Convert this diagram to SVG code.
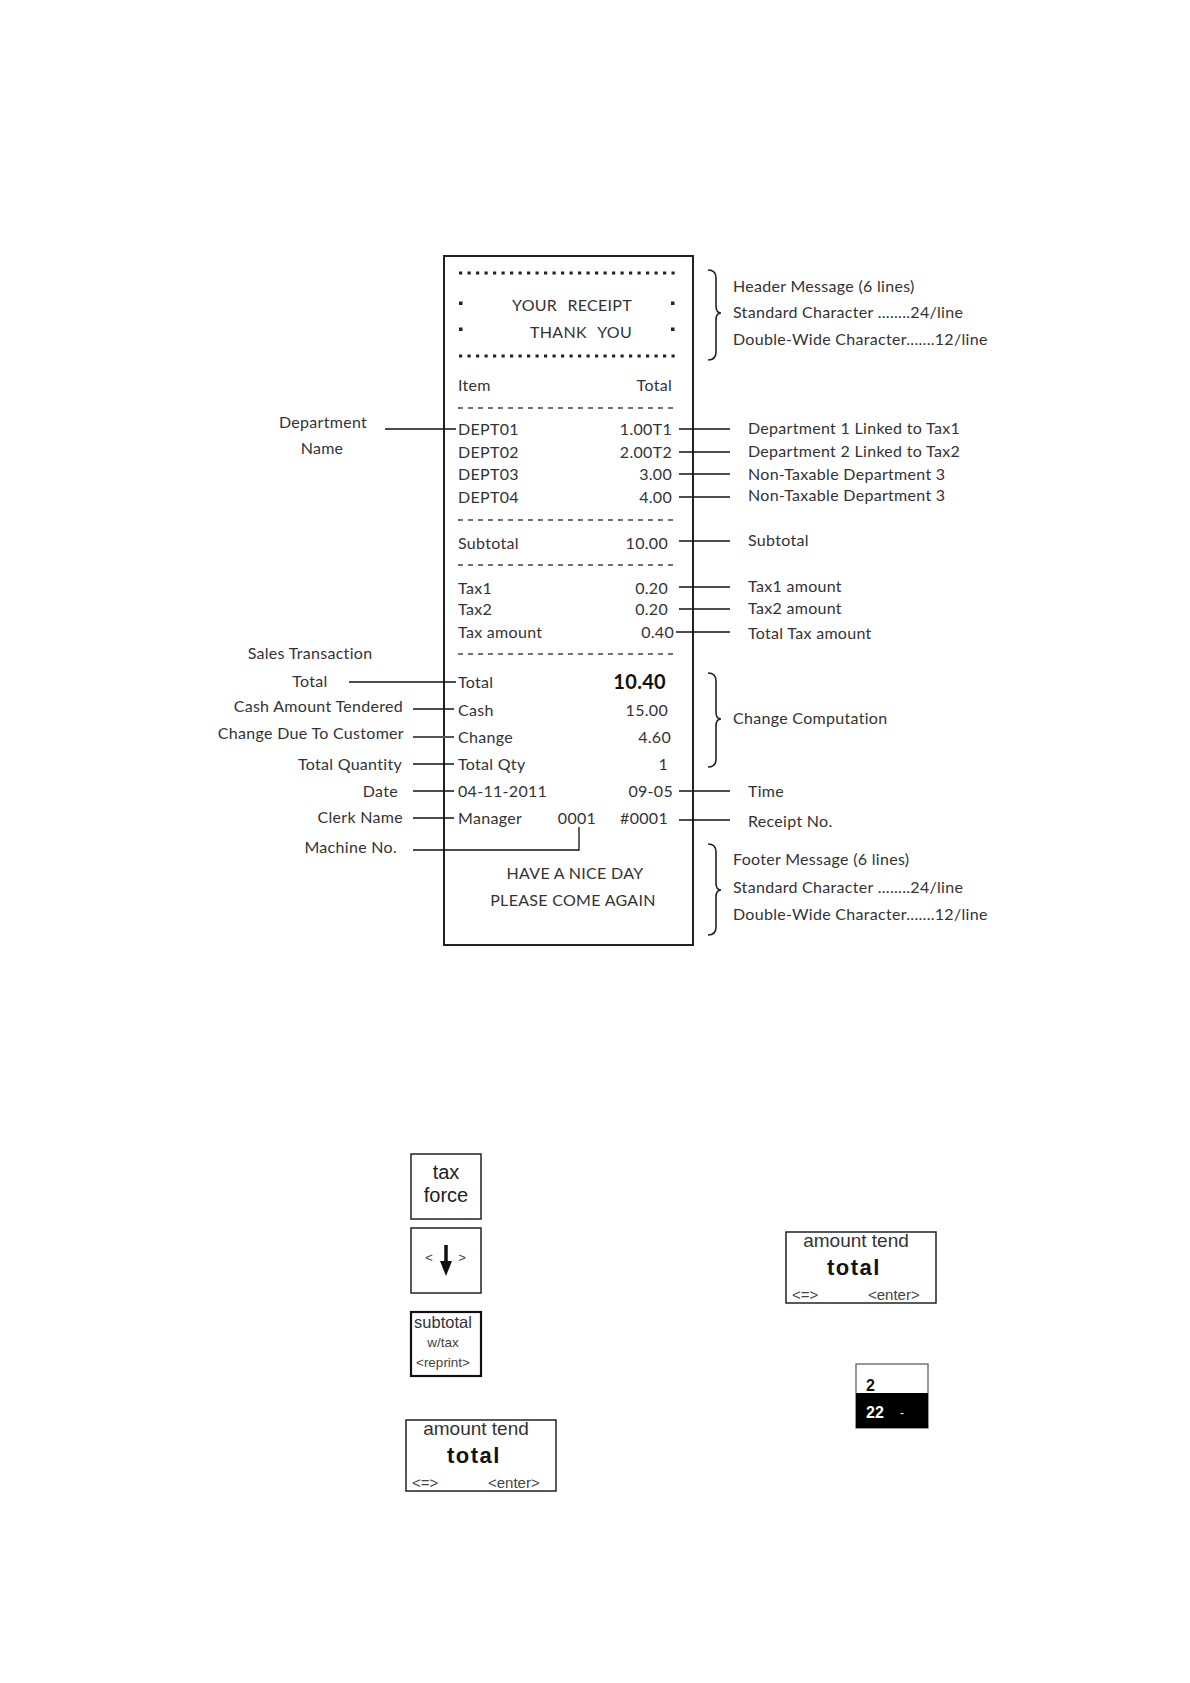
<svg xmlns="http://www.w3.org/2000/svg" width="1190" height="1683" viewBox="0 0 1190 1683">
<defs>
<style>
.t{font-family:Lato,"Open Sans","Liberation Sans",sans-serif;font-size:16px;fill:#333;letter-spacing:0.3px}
.r{text-anchor:end}
.m{text-anchor:middle}
.b{font-family:"Liberation Sans",Arial,sans-serif}
.ln{stroke:#111;stroke-width:1.3;fill:none}
.br{stroke:#222;stroke-width:1.6;fill:none}
.dash{stroke:#444;stroke-width:1.5;stroke-dasharray:5 5}
.star{stroke:#222;stroke-width:3.2;stroke-dasharray:3.2 5.3}
.box{fill:#fff;stroke:#222;stroke-width:1.5}
</style>
</defs>
<rect width="1190" height="1683" fill="#fff"/>

<g id="receipt">
<rect x="444" y="256" width="249" height="689" fill="#fff" stroke="#222" stroke-width="2"/>
<line class="star" x1="459" y1="273" x2="675" y2="273"/>
<rect x="459" y="301.5" width="3.5" height="3.5" fill="#222"/>
<rect x="671" y="301.5" width="3.5" height="3.5" fill="#222"/>
<rect x="459" y="327.5" width="3.5" height="3.5" fill="#222"/>
<rect x="671" y="327.5" width="3.5" height="3.5" fill="#222"/>
<text class="t" x="512" y="311">YOUR</text>
<text class="t r" x="632" y="311">RECEIPT</text>
<text class="t" x="530" y="338">THANK</text>
<text class="t r" x="632" y="338">YOU</text>
<line class="star" x1="459" y1="356" x2="675" y2="356"/>
<text class="t" x="458" y="391">Item</text>
<text class="t r" x="672" y="391">Total</text>
<line class="dash" x1="458" y1="408" x2="676" y2="408"/>
<text class="t" x="458" y="435">DEPT01</text><text class="t r" x="672" y="435">1.00T1</text>
<text class="t" x="458" y="458">DEPT02</text><text class="t r" x="672" y="458">2.00T2</text>
<text class="t" x="458" y="480">DEPT03</text><text class="t r" x="672" y="480">3.00</text>
<text class="t" x="458" y="503">DEPT04</text><text class="t r" x="672" y="503">4.00</text>
<line class="dash" x1="458" y1="520" x2="676" y2="520"/>
<text class="t" x="458" y="549">Subtotal</text><text class="t r" x="668" y="549">10.00</text>
<line class="dash" x1="458" y1="565" x2="676" y2="565"/>
<text class="t" x="458" y="594">Tax1</text><text class="t r" x="668" y="594">0.20</text>
<text class="t" x="458" y="615">Tax2</text><text class="t r" x="668" y="615">0.20</text>
<text class="t" x="458" y="638">Tax amount</text><text class="t r" x="674" y="638">0.40</text>
<line class="dash" x1="458" y1="654" x2="676" y2="654"/>
<text class="t" x="458" y="688">Total</text><text class="t r" x="666" y="689" style="font-weight:bold;font-size:20px;fill:#111">10.40</text>
<text class="t" x="458" y="716">Cash</text><text class="t r" x="668" y="716">15.00</text>
<text class="t" x="458" y="743">Change</text><text class="t r" x="671" y="743">4.60</text>
<text class="t" x="458" y="770">Total Qty</text><text class="t r" x="668" y="770">1</text>
<text class="t" x="458" y="797">04-11-2011</text><text class="t r" x="673" y="797">09-05</text>
<text class="t" x="458" y="824">Manager</text><text class="t m" x="577" y="824">0001</text><text class="t r" x="668" y="824">#0001</text>
<text class="t m" x="575" y="879">HAVE A NICE DAY</text>
<text class="t m" x="573" y="906">PLEASE COME AGAIN</text>
</g>

<g id="header-note">
<path class="br" d="M708,270 Q716,270 716,278 L716,306 Q716,313 721,313 Q716,313 716,320 L716,352 Q716,360 708,360"/>
<text class="t" x="733" y="292">Header Message (6 lines)</text>
<text class="t" x="733" y="318">Standard Character ........24/line</text>
<text class="t" x="733" y="345">Double-Wide Character.......12/line</text>
</g>
<g id="dept-notes">
<text class="t" x="748" y="434">Department 1 Linked to Tax1</text>
<text class="t" x="748" y="457">Department 2 Linked to Tax2</text>
<text class="t" x="748" y="480">Non-Taxable Department  3</text>
<text class="t" x="748" y="501">Non-Taxable Department  3</text>
</g>
<g id="subtotal-note"><text class="t" x="748" y="546">Subtotal</text></g>
<g id="tax-notes">
<text class="t" x="748" y="592">Tax1 amount</text>
<text class="t" x="748" y="614">Tax2 amount</text>
<text class="t" x="748" y="639">Total Tax amount</text>
</g>
<g id="change-note">
<path class="br" d="M708,673 Q716,673 716,681 L716,712 Q716,719 721,719 Q716,719 716,726 L716,759 Q716,767 708,767"/>
<text class="t" x="733" y="724">Change Computation</text>
</g>
<g id="time-note"><text class="t" x="748" y="797">Time</text></g>
<g id="receipt-no-note"><text class="t" x="748" y="827">Receipt No.</text></g>
<g id="footer-note">
<path class="br" d="M708,844 Q716,844 716,852 L716,883 Q716,890 721,890 Q716,890 716,897 L716,927 Q716,935 708,935"/>
<text class="t" x="733" y="865">Footer Message (6 lines)</text>
<text class="t" x="733" y="893">Standard Character ........24/line</text>
<text class="t" x="733" y="920">Double-Wide Character.......12/line</text>
</g>

<g id="left-labels">
<text class="t m" x="323" y="428">Department</text>
<text class="t m" x="322" y="454">Name</text>
<text class="t m" x="310" y="659">Sales Transaction</text>
<text class="t m" x="310" y="687">Total</text>
<text class="t r" x="403" y="712">Cash Amount Tendered</text>
<text class="t r" x="404" y="739">Change Due To Customer</text>
<text class="t r" x="402" y="770">Total Quantity</text>
<text class="t r" x="398" y="797">Date</text>
<text class="t r" x="403" y="823">Clerk Name</text>
<text class="t r" x="397" y="853">Machine No.</text>
</g>

<g id="connectors">
<line class="ln" x1="385" y1="429" x2="456" y2="429"/>
<line class="ln" x1="349" y1="682" x2="456" y2="682"/>
<line class="ln" x1="413" y1="709" x2="454" y2="709"/>
<line x1="413" y1="737" x2="454" y2="737" stroke="#555" stroke-width="2"/>
<line class="ln" x1="413" y1="764" x2="454" y2="764"/>
<line class="ln" x1="413" y1="791" x2="454" y2="791"/>
<line class="ln" x1="413" y1="818" x2="454" y2="818"/>
<polyline class="ln" points="413,850 579,850 579,827"/>
<line class="ln" x1="679" y1="429" x2="730" y2="429"/>
<line class="ln" x1="679" y1="452" x2="730" y2="452"/>
<line class="ln" x1="679" y1="474" x2="730" y2="474"/>
<line class="ln" x1="679" y1="497" x2="730" y2="497"/>
<line class="ln" x1="679" y1="541" x2="730" y2="541"/>
<line class="ln" x1="679" y1="587" x2="730" y2="587"/>
<line class="ln" x1="679" y1="609" x2="730" y2="609"/>
<line class="ln" x1="676" y1="632" x2="730" y2="632"/>
<line class="ln" x1="679" y1="791" x2="730" y2="791"/>
<line class="ln" x1="679" y1="820" x2="730" y2="820"/>
</g>

<g id="key-taxforce">
<rect class="box" x="411" y="1154" width="70" height="65"/>
<text class="b m" x="446" y="1179" font-size="20" fill="#222">tax</text>
<text class="b m" x="446" y="1202" font-size="20" fill="#222">force</text>
</g>
<g id="key-arrow">
<rect class="box" x="411" y="1228" width="70" height="65"/>
<text class="b m" x="429" y="1262" font-size="13" fill="#444">&lt;</text>
<text class="b m" x="462" y="1262" font-size="13" fill="#444">&gt;</text>
<line x1="446" y1="1245" x2="446" y2="1264" stroke="#111" stroke-width="3.5"/>
<polygon points="440,1261 452,1261 446,1276" fill="#111"/>
</g>
<g id="key-subtotal">
<rect x="411" y="1312" width="70" height="64" fill="#fff" stroke="#111" stroke-width="2.2"/>
<text class="b m" x="443" y="1328" font-size="16.5" fill="#333">subtotal</text>
<text class="b m" x="443" y="1347" font-size="13.5" fill="#444">w/tax</text>
<text class="b m" x="443" y="1367" font-size="12" fill="#444" textLength="54" lengthAdjust="spacingAndGlyphs">&lt;reprint&gt;</text>
</g>
<g id="key-amount-left">
<rect class="box" x="406" y="1420" width="150" height="71"/>
<text class="b m" x="476" y="1435" font-size="19" fill="#333">amount tend</text>
<text class="b m" x="474" y="1463" font-size="22" font-weight="bold" letter-spacing="1.5" fill="#111">total</text>
<text class="b" x="412" y="1488" font-size="15" fill="#444">&lt;=&gt;</text>
<text class="b" x="488" y="1488" font-size="15" fill="#444">&lt;enter&gt;</text>
</g>
<g id="key-amount-right">
<rect class="box" x="786" y="1232" width="150" height="71"/>
<text class="b m" x="856" y="1247" font-size="19" fill="#333">amount tend</text>
<text class="b m" x="854" y="1275" font-size="22" font-weight="bold" letter-spacing="1.5" fill="#111">total</text>
<text class="b" x="792" y="1300" font-size="15" fill="#444">&lt;=&gt;</text>
<text class="b" x="868" y="1300" font-size="15" fill="#444">&lt;enter&gt;</text>
</g>
<g id="display">
<rect x="856" y="1364" width="72" height="64" fill="#fff" stroke="#555" stroke-width="1.2"/>
<rect x="856" y="1393" width="72" height="35" fill="#000"/>
<text class="b" x="866" y="1391" font-size="16" font-weight="bold" fill="#111">2</text>
<text class="b" x="866" y="1418" font-size="16" font-weight="bold" fill="#fff">22</text>
<text class="b" x="900" y="1417" font-size="12" fill="#fff">-</text>
</g>
</svg>
